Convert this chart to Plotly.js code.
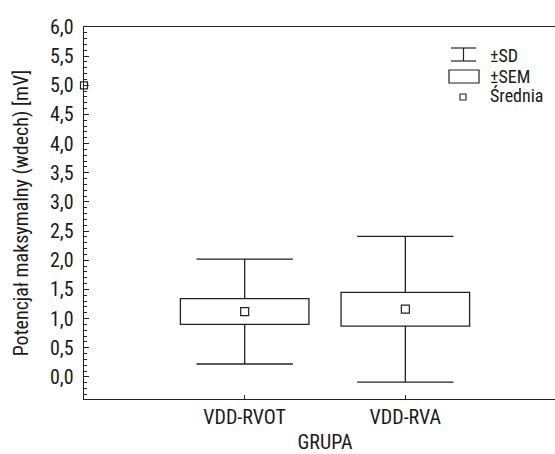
<!DOCTYPE html>
<html>
<head>
<meta charset="utf-8">
<script src="https://cdn.plot.ly/plotly-3.0.1.min.js"></script>
<style>
  html, body { margin: 0; padding: 0; overflow: hidden; background: #fff; }
  #chart { width: 570px; height: 454px; }
</style>
</head>
<body>
<div id="chart"></div>
<script>
// Groups and their summary statistics (mean, standard error, standard deviation)
const groups = ['VDD-RVOT', 'VDD-RVA'];
const means = [1.12, 1.16];
const sems = [0.22, 0.29];
const sds = [0.90, 1.25];

// Single point marked on the axis edge
const edgePointX = [-1];
const edgePointY = [5.0];

// Y tick values and their comma-decimal labels
const yTickVals = [0, 0.5, 1, 1.5, 2, 2.5, 3, 3.5, 4, 4.5, 5, 5.5, 6];
const yTickText = ['0,0', '0,5', '1,0', '1,5', '2,0', '2,5', '3,0', '3,5', '4,0', '4,5', '5,0', '5,5', '6,0'];

// Legend entries
const legendLabels = ['±SD', '±SEM', 'Średnia'];

const FONT = "'Liberation Sans Narrow', 'Arial Narrow', 'Roboto Condensed', 'DejaVu Sans Condensed', sans-serif";
const INK = '#1a1a1a';
const LINE = '#222';

const boxHalf = 0.40;
const capHalf = 0.30;

const shapes = [];
groups.forEach((g, i) => {
  const m = means[i], se = sems[i], sd = sds[i];
  const base = {xref: 'x', yref: 'y', layer: 'below'};
  // SD whisker stem and caps
  shapes.push(Object.assign({type: 'line', x0: i, x1: i, y0: m - sd, y1: m + sd,
               line: {color: LINE, width: 1.3}}, base));
  shapes.push(Object.assign({type: 'line', x0: i - capHalf, x1: i + capHalf, y0: m + sd, y1: m + sd,
               line: {color: LINE, width: 1.3}}, base));
  shapes.push(Object.assign({type: 'line', x0: i - capHalf, x1: i + capHalf, y0: m - sd, y1: m - sd,
               line: {color: LINE, width: 1.3}}, base));
  // SEM box drawn over the stem
  shapes.push(Object.assign({type: 'rect', x0: i - boxHalf, x1: i + boxHalf, y0: m - se, y1: m + se,
               fillcolor: '#fff', line: {color: LINE, width: 1.3}}, base));
});

// Legend glyphs (paper coordinates from pixel positions)
function px(x) { return (x - 84) / 482; }
function py(y) { return (399 - y) / 372; }
// ±SD glyph
shapes.push({type: 'line', xref: 'paper', yref: 'paper', x0: px(451), x1: px(476), y0: py(48), y1: py(48), line: {color: LINE, width: 1.2}});
shapes.push({type: 'line', xref: 'paper', yref: 'paper', x0: px(451), x1: px(476), y0: py(61), y1: py(61), line: {color: LINE, width: 1.2}});
shapes.push({type: 'line', xref: 'paper', yref: 'paper', x0: px(463.5), x1: px(463.5), y0: py(48), y1: py(61), line: {color: LINE, width: 1.2}});
// ±SEM glyph
shapes.push({type: 'rect', xref: 'paper', yref: 'paper', x0: px(449), x1: px(479), y0: py(70), y1: py(83), fillcolor: '#fff', line: {color: LINE, width: 1.2}});
// Średnia glyph
shapes.push({type: 'rect', xref: 'paper', yref: 'paper', x0: px(460), x1: px(466), y0: py(94), y1: py(100), fillcolor: '#fff', line: {color: LINE, width: 1.1}});

const legendRows = [55, 76, 96];
const annotations = legendLabels.map((t, k) => ({
  text: t, x: px(488), y: py(legendRows[k]),
  xref: 'paper', yref: 'paper', xanchor: 'left', yanchor: 'middle', showarrow: false,
  font: {family: FONT, size: 18, color: INK}
}));

const traces = [
  {
    type: 'scatter', mode: 'markers', x: [0, 1], y: means,
    marker: {symbol: 'square-open', size: 8, color: LINE, line: {width: 1.2}},
    hoverinfo: 'skip', showlegend: false
  },
  {
    type: 'scatter', mode: 'markers', x: edgePointX, y: edgePointY, cliponaxis: false,
    marker: {symbol: 'square-open', size: 7, color: LINE, line: {width: 1.2}},
    hoverinfo: 'skip', showlegend: false
  }
];

const layout = {
  width: 570, height: 454,
  margin: {l: 84, r: 4, t: 27, b: 55},
  paper_bgcolor: '#fff', plot_bgcolor: '#fff',
  showlegend: false,
  font: {family: FONT, size: 20, color: INK},
  xaxis: {
    range: [-1, 2], tickvals: [0, 1], ticktext: groups,
    showgrid: false, zeroline: false,
    showline: true, linecolor: LINE, linewidth: 1.3, mirror: true,
    ticks: 'inside', ticklen: 4, tickcolor: LINE,
    tickfont: {family: FONT, size: 20, color: INK},
    title: {text: 'GRUPA', font: {family: FONT, size: 20, color: INK}, standoff: 6}
  },
  yaxis: {
    range: [-0.38, 6.0], tickvals: yTickVals, ticktext: yTickText,
    showgrid: false, zeroline: false,
    showline: true, linecolor: LINE, linewidth: 1.3,
    ticks: 'inside', ticklen: 5, tickcolor: LINE,
    ticklabelstandoff: 5,
    minor: {dtick: 0.1, ticks: 'inside', ticklen: 3, tickcolor: LINE, showgrid: false},
    tickfont: {family: FONT, size: 20, color: INK},
    title: {text: 'Potencjał maksymalny (wdech) [mV]', font: {family: FONT, size: 20, color: INK}, standoff: 16}
  },
  shapes: shapes,
  annotations: annotations
};

Plotly.newPlot('chart', traces, layout, {displayModeBar: false, staticPlot: true});
</script>
</body>
</html>
